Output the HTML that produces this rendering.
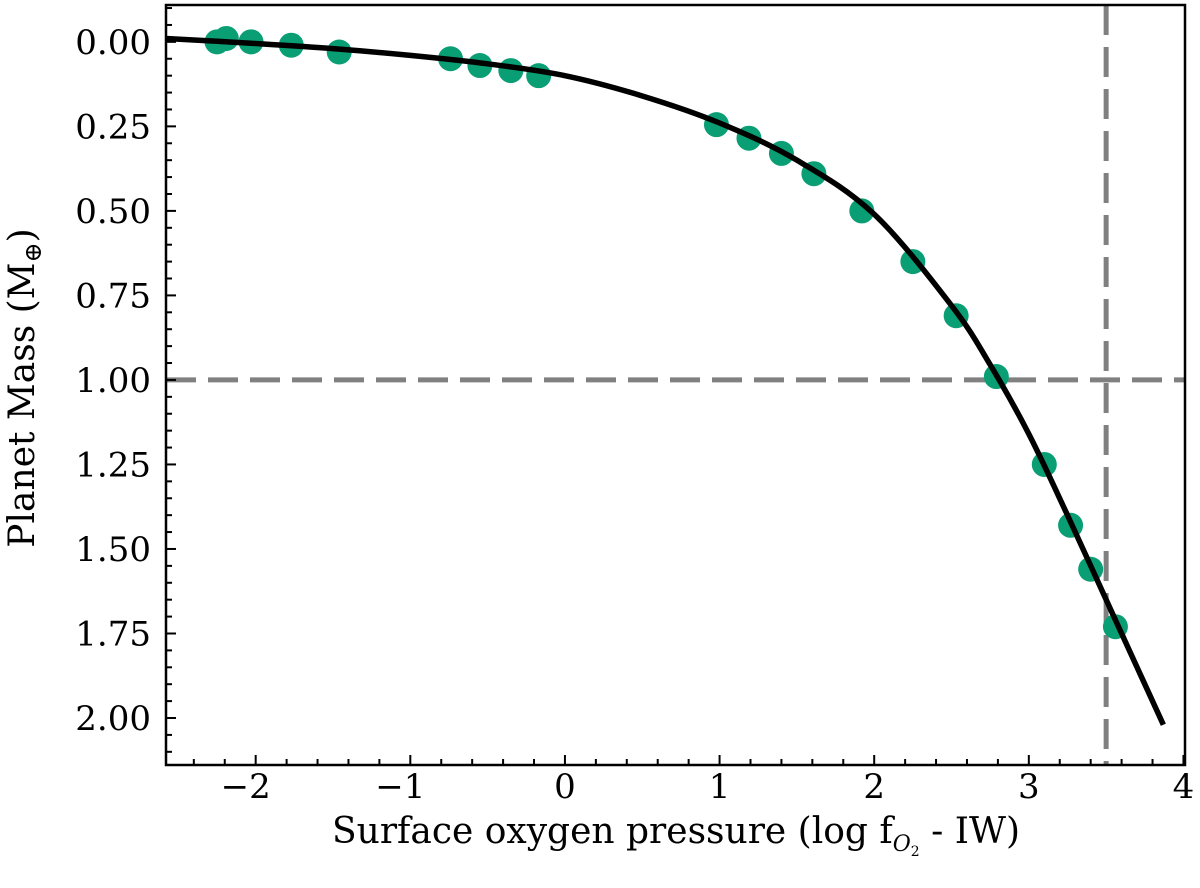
<!DOCTYPE html>
<html><head><meta charset="utf-8"><style>
body{margin:0;background:#fff}
svg text{font-family:"DejaVu Serif","Liberation Serif",serif;fill:#000}
</style></head><body>
<svg id="chart" width="1200" height="883" viewBox="0 0 1200 883" xmlns="http://www.w3.org/2000/svg">
<g id="grid"></g>
<g id="pts"></g>
<g id="curve"></g>
<g id="axes"></g>
<text x="676" y="843" font-size="36" text-anchor="middle">Surface oxygen pressure (log f<tspan font-size="22" dy="8" font-style="italic">O</tspan><tspan font-size="14" dy="5">2</tspan><tspan dy="-13"> - IW)</tspan></text>
<text transform="translate(34,388) rotate(-90)" font-size="36" text-anchor="middle">Planet Mass (M<tspan font-size="24" dy="7">⊕</tspan><tspan dy="-7">)</tspan></text>
</svg>
<script>
const pointX=[-2.25,-2.19,-2.03,-1.77,-1.46,-0.74,-0.55,-0.35,-0.17,0.98,1.19,1.40,1.61,1.92,2.25,2.53,2.79,3.10,3.27,3.40,3.56];
const pointY=[0.0,-0.01,0.0,0.01,0.03,0.05,0.07,0.085,0.10,0.245,0.285,0.33,0.39,0.50,0.65,0.81,0.99,1.25,1.43,1.56,1.73];
const curveX=[-2.58,-2,-1.5,-1,-0.5,0,0.5,1,1.5,2,2.5,2.75,3,3.25,3.5,3.75,3.87];
const curveY=[-0.01,0.005,0.02,0.04,0.065,0.10,0.16,0.24,0.35,0.51,0.78,0.955,1.16,1.40,1.65,1.90,2.02];
const xTicks=[-2,-1,0,1,2,3,4];
const yTicks=[0,0.25,0.5,0.75,1.0,1.25,1.5,1.75,2.0];
const hRef=[1.0], vRef=[3.5];
const L=166,R=1185,T=5,B=765,X0=-2.58,X1=4.01,Y0=-0.109,Y1=2.139;
const sx=v=>L+(v-X0)/(X1-X0)*(R-L);
const sy=v=>T+(v-Y0)/(Y1-Y0)*(B-T);
const NS="http://www.w3.org/2000/svg";
function mk(tag,attrs,parent){const e=document.createElementNS(NS,tag);for(const k in attrs)e.setAttribute(k,attrs[k]);parent.appendChild(e);return e;}
const grid=document.getElementById('grid'),pts=document.getElementById('pts'),cur=document.getElementById('curve'),ax=document.getElementById('axes');
hRef.forEach(v=>{const l=mk('line',{x1:L,x2:R,y1:sy(v),y2:sy(v),stroke:'#808080','stroke-width':5,'stroke-dasharray':'30 12'},grid);

});
vRef.forEach(v=>{const l=mk('line',{x1:sx(v),x2:sx(v),y1:T,y2:B,stroke:'#808080','stroke-width':5,'stroke-dasharray':'30 12'},grid);

});
pointX.forEach((x,i)=>{const c=mk('circle',{cx:sx(x),cy:sy(pointY[i]),r:12.5,fill:'#0a9e74'},pts);

});
const P=curveX.map((x,i)=>[sx(x),sy(curveY[i])]);
let d='M'+P[0][0]+','+P[0][1];
for(let i=0;i<P.length-1;i++){const p0=P[Math.max(0,i-1)],p1=P[i],p2=P[i+1],p3=P[Math.min(P.length-1,i+2)];
d+=` C${p1[0]+(p2[0]-p0[0])/6},${p1[1]+(p2[1]-p0[1])/6} ${p2[0]-(p3[0]-p1[0])/6},${p2[1]-(p3[1]-p1[1])/6} ${p2[0]},${p2[1]}`;}
const path=mk('path',{d:d,fill:'none',stroke:'#000','stroke-width':5.5,'stroke-linecap':'butt'},cur);


for(let v=-2.4;v<=4.001;v+=0.2){const x=sx(v);const major=Math.abs(v-Math.round(v))<1e-6;
mk('line',{x1:x,x2:x,y1:B,y2:B-(major?10:6),stroke:'#000','stroke-width':2},ax);}
for(let v=-0.1;v<=2.101;v+=0.05){const y=sy(v);const major=Math.abs(v*4-Math.round(v*4))<1e-6;
mk('line',{x1:L,x2:L+(major?10:6),y1:y,y2:y,stroke:'#000','stroke-width':2},ax);}
xTicks.forEach(v=>{const t=mk('text',{x:sx(v)-(v<0?10:0),y:B+33,'font-size':34,'text-anchor':'middle'},ax);t.textContent=v<0?'−'+Math.abs(v):String(v);

});
yTicks.forEach(v=>{const t=mk('text',{x:L-15,y:sy(v)+12,'font-size':34,'text-anchor':'end'},ax);t.textContent=v.toFixed(2);

});
const fr=mk('rect',{x:L,y:T,width:R-L,height:B-T,fill:'none',stroke:'#000','stroke-width':2.5},ax);


</script>
</body></html>
